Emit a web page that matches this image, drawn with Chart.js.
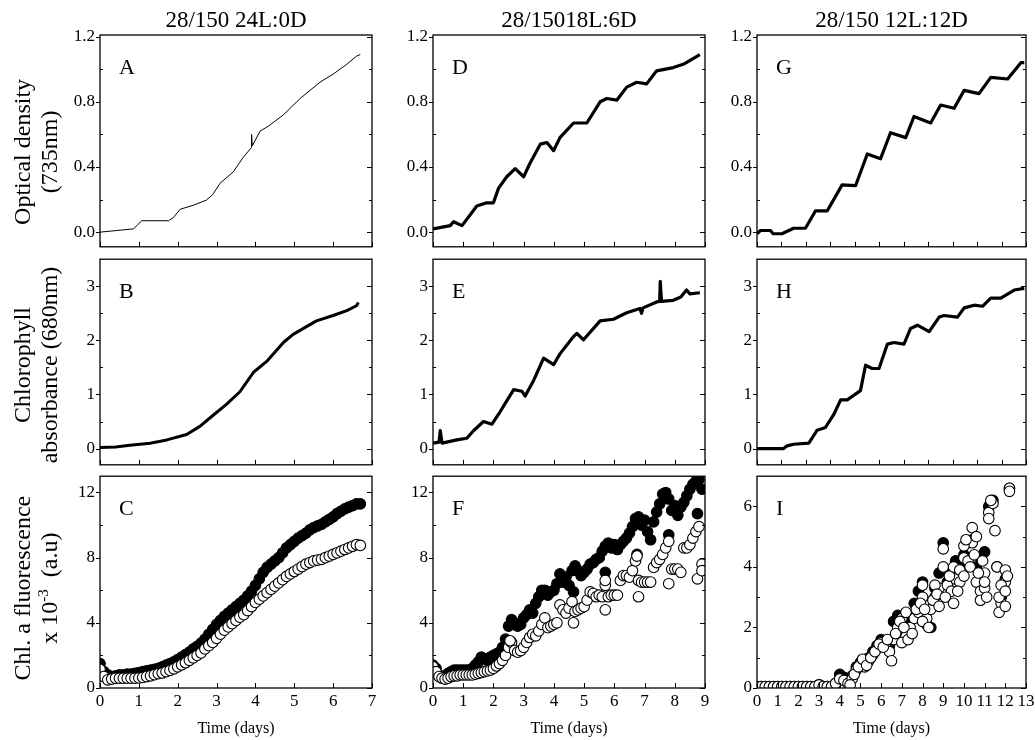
<!DOCTYPE html>
<html>
<head>
<meta charset="utf-8">
<script src="https://cdn.jsdelivr.net/npm/chart.js@4.4.1/dist/chart.umd.min.js"></script>
<style>
  body { margin: 0; background: #fff; width: 1035px; height: 740px; position: relative; overflow: hidden; }
  canvas { position: absolute; }
</style>
</head>
<body>
<script>
// column headers (light regime) and axis titles
const colTitles = ['28/150 24L:0D', '28/15018L:6D', '28/150 12L:12D'];
const xTitle = 'Time (days)';

// tick values / labels
const days7 = [0, 1, 2, 3, 4, 5, 6, 7];
const days9 = [0, 1, 2, 3, 4, 5, 6, 7, 8, 9];
const days11 = [0, 1, 2, 3, 4, 5, 6, 7, 8, 9, 10, 11];
const days13 = [0, 1, 2, 3, 4, 5, 6, 7, 8, 9, 10, 11, 12, 13];
const odTicks = [0, 0.4, 0.8, 1.2];
const odLabels = ['0.0', '0.4', '0.8', '1.2'];
const odMinor = [0.2, 0.6, 1.0];
const chlTicks = [0, 1, 2, 3];
const chlLabels = ['0', '1', '2', '3'];
const chlMinor = [0.5, 1.5, 2.5];
const flTicks = [0, 4, 8, 12];
const flLabels = ['0', '4', '8', '12'];
const flMinor = [2, 6, 10];
const flTicksI = [0, 2, 4, 6];
const flLabelsI = ['0', '2', '4', '6'];
const flMinorI = [1, 3, 5];

// A: OD 735nm, 24L:0D
const aT  = [0, 0.43, 0.86, 0.95, 1.07, 1.76, 1.89, 2.06, 2.4, 2.74, 2.9, 3.09, 3.43, 3.69, 3.9, 3.9, 3.92, 4.12, 4.33, 4.72, 5.15, 5.66, 6.0, 6.35, 6.6, 6.7];
const aOD = [0, 0.01, 0.02, 0.04, 0.07, 0.07, 0.09, 0.14, 0.165, 0.197, 0.23, 0.30, 0.37, 0.46, 0.52, 0.60, 0.53, 0.62, 0.65, 0.72, 0.82, 0.92, 0.97, 1.03, 1.08, 1.09];

// B: chlorophyll absorbance, 24L:0D
const bT   = [0, 0.4, 0.77, 1.29, 1.72, 2.23, 2.57, 2.92, 3.26, 3.6, 3.95, 4.29, 4.72, 4.97, 5.57, 6.0, 6.35, 6.6, 6.65];
const bChl = [0.02, 0.03, 0.06, 0.1, 0.16, 0.26, 0.41, 0.62, 0.82, 1.05, 1.41, 1.61, 1.96, 2.11, 2.36, 2.46, 2.55, 2.64, 2.7];

// C: fluorescence, 24L:0D
const tC = [0, 0.1, 0.2, 0.3, 0.4, 0.5, 0.6, 0.7, 0.8, 0.9,
  1.0, 1.1, 1.2, 1.3, 1.4, 1.5, 1.6, 1.7, 1.8, 1.9,
  2.0, 2.1, 2.2, 2.3, 2.4, 2.5, 2.6, 2.7, 2.8, 2.9,
  3.0, 3.1, 3.2, 3.3, 3.4, 3.5, 3.6, 3.7, 3.8, 3.9,
  4.0, 4.1, 4.2, 4.3, 4.4, 4.5, 4.6, 4.7, 4.8, 4.9,
  5.0, 5.1, 5.2, 5.3, 5.4, 5.5, 5.6, 5.7, 5.8, 5.9,
  6.0, 6.1, 6.2, 6.3, 6.4, 6.5, 6.6, 6.7];
const cFilled = [1.5, 1.0, 0.8, 0.7, 0.75, 0.8, 0.8, 0.85, 0.85, 0.9,
  0.95, 1.0, 1.05, 1.1, 1.15, 1.2, 1.3, 1.4, 1.5, 1.6,
  1.75, 1.9, 2.05, 2.2, 2.4, 2.55, 2.75, 3.0, 3.3, 3.6,
  3.9, 4.15, 4.4, 4.6, 4.8, 5.0, 5.2, 5.4, 5.65, 5.95,
  6.3, 6.7, 7.1, 7.4, 7.6, 7.8, 8.0, 8.3, 8.6, 8.8,
  9.0, 9.2, 9.35, 9.5, 9.7, 9.85, 9.95, 10.05, 10.2, 10.35,
  10.5, 10.7, 10.85, 11.0, 11.1, 11.2, 11.3, 11.3];
const cOpen = [1.15, 0.7, 0.5, 0.55, 0.6, 0.6, 0.6, 0.6, 0.6, 0.6,
  0.62, 0.65, 0.7, 0.75, 0.82, 0.88, 0.92, 1.0, 1.08, 1.18,
  1.3, 1.42, 1.55, 1.7, 1.85, 2.0, 2.15, 2.4, 2.6, 2.8,
  3.05, 3.3, 3.55, 3.75, 3.95, 4.15, 4.35, 4.5, 4.75, 5.0,
  5.25, 5.45, 5.65, 5.85, 6.05, 6.25, 6.45, 6.65, 6.85, 7.0,
  7.15, 7.3, 7.45, 7.6, 7.7, 7.8, 7.85, 7.9, 8.0, 8.1,
  8.2, 8.3, 8.4, 8.5, 8.6, 8.7, 8.8, 8.75];

// D: OD 735nm, 18L:6D
const dT  = [0, 0.57, 0.68, 0.96, 1.45, 1.78, 2.0, 2.17, 2.44, 2.72, 3.0, 3.2, 3.55, 3.77, 3.99, 4.2, 4.65, 5.09, 5.53, 5.75, 6.08, 6.41, 6.74, 7.07, 7.4, 7.95, 8.28, 8.83];
const dOD = [0.02, 0.04, 0.064, 0.04, 0.16, 0.18, 0.18, 0.27, 0.34, 0.39, 0.34, 0.42, 0.54, 0.55, 0.50, 0.58, 0.67, 0.67, 0.80, 0.82, 0.81, 0.89, 0.92, 0.91, 0.99, 1.01, 1.03, 1.09];

// E: chlorophyll absorbance, 18L:6D
const eT   = [0, 0.2, 0.24, 0.3, 0.79, 1.12, 1.34, 1.67, 1.95, 2.22, 2.44, 2.67, 2.94, 3.05, 3.33, 3.66, 3.99, 4.2, 4.65, 4.76, 4.98, 5.53, 5.97, 6.41, 6.85, 6.9, 6.95, 7.4, 7.5, 7.52, 7.56, 7.95, 8.2, 8.39, 8.5, 8.83];
const eChl = [0.1, 0.12, 0.33, 0.1, 0.16, 0.19, 0.33, 0.5, 0.45, 0.68, 0.88, 1.09, 1.06, 0.97, 1.26, 1.67, 1.55, 1.75, 2.07, 2.13, 2.01, 2.36, 2.39, 2.51, 2.59, 2.5, 2.6, 2.71, 2.72, 3.09, 2.72, 2.74, 2.8, 2.93, 2.86, 2.88];

// F: fluorescence, 18L:6D
const tF = [0, 0.1, 0.2, 0.3, 0.4, 0.5, 0.6, 0.7, 0.8, 0.9,
  1.0, 1.1, 1.2, 1.3, 1.4, 1.5, 1.6, 1.7, 1.8, 1.9,
  2.0, 2.1, 2.2, 2.3, 2.4, 2.5, 2.6, 2.7, 2.8, 2.9,
  3.0, 3.1, 3.2, 3.3, 3.4, 3.5, 3.6, 3.7, 3.8, 3.9,
  4.0, 4.1, 4.2, 4.3, 4.4, 4.5, 4.6, 4.7, 4.8, 4.9,
  5.0, 5.1, 5.2, 5.3, 5.4, 5.5, 5.6, 5.7, 5.8, 5.9,
  6.0, 6.1, 6.2, 6.3, 6.4, 6.5, 6.6, 6.7, 6.8, 6.9,
  7.0, 7.1, 7.2, 7.3, 7.4, 7.5, 7.6, 7.7, 7.8, 7.9,
  8.0, 8.1, 8.2, 8.3, 8.4, 8.5, 8.6, 8.7, 8.8, 8.9];
const fFilled = [1.4, 1.2, 0.8, 0.6, 0.7, 0.9, 1.0, 1.1, 1.1, 1.1,
  1.1, 1.1, 1.1, 1.2, 1.4, 1.6, 1.9, 1.8, 1.7, 1.9,
  2.0, 2.1, 2.2, 2.5, 3.0, 3.8, 4.2, 4.0, 3.8, 3.9,
  4.3, 4.5, 4.8, 4.6, 5.2, 5.6, 6.0, 6.0, 5.7, 5.9,
  6.0, 6.4, 7.0, 6.5, 6.8, 6.3, 7.2, 7.5, 7.2, 6.9,
  7.1, 7.3, 7.6, 7.7, 7.9, 8.0, 8.4, 8.7, 8.9, 8.6,
  8.8, 8.5, 8.8, 9.0, 9.2, 9.5, 9.9, 10.4, 10.5, 10.0,
  10.3, 9.6, 9.1, 10.2, 10.8, 11.3, 11.9, 12.0, 11.6, 10.9,
  11.2, 10.6, 11.1, 11.4, 11.8, 12.2, 12.5, 12.7, 12.8, 12.2];
const fOpen = [1.3, 1.0, 0.7, 0.6, 0.55, 0.6, 0.7, 0.75, 0.75, 0.8,
  0.8, 0.8, 0.8, 0.8, 0.85, 0.9, 0.95, 1.0, 1.05, 1.1,
  1.2, 1.35, 1.5, 1.7, 2.0, 2.5, 2.8, 2.3, 2.2, 2.3,
  2.5, 2.8, 3.1, 3.3, 3.2, 3.5, 3.9, 4.3, 3.7, 3.8,
  3.9, 4.0, 5.1, 4.8, 4.6, 4.9, 5.3, 4.7, 4.8, 4.9,
  5.0, 5.4, 5.9, 5.8, 5.6, 5.7, 5.6, 6.3, 5.6, 5.7,
  5.7, 5.7, 6.6, 6.9, 6.9, 6.8, 7.2, 7.8, 6.6, 6.5,
  6.5, 6.5, 6.5, 7.4, 7.7, 7.9, 8.2, 8.6, 9.0, 7.3,
  7.3, 7.3, 7.1, 8.6, 8.6, 8.8, 9.2, 9.6, 9.9, 7.6];
// scattered repeat readings in F, [day, value]
const fFilledExtra = [[4.65, 5.9], [5.7, 7.1], [6.75, 8.2], [7.8, 9.4], [8.75, 10.7]];
const fOpenExtra = [[2.55, 2.9], [4.65, 4.0], [5.7, 4.8], [5.7, 6.6], [6.75, 8.1], [6.8, 5.6], [7.8, 6.4], [8.75, 6.7], [8.9, 7.2]];

// G: OD 735nm, 12L:12D
const gT  = [0, 0.14, 0.55, 0.66, 1.02, 1.5, 1.98, 2.39, 2.87, 3.48, 4.03, 4.51, 5.05, 5.46, 6.08, 6.42, 7.1, 7.51, 8.06, 8.47, 9.08, 9.56, 10.25, 10.79, 10.93];
const gOD = [-0.01, 0.01, 0.01, -0.01, -0.01, 0.024, 0.024, 0.13, 0.13, 0.29, 0.285, 0.48, 0.45, 0.61, 0.58, 0.71, 0.67, 0.78, 0.76, 0.87, 0.85, 0.95, 0.94, 1.04, 1.04];

// H: chlorophyll absorbance, 12L:12D
const hT   = [0, 1.09, 1.23, 1.5, 2.12, 2.46, 2.8, 3.14, 3.42, 3.69, 4.23, 4.44, 4.71, 4.99, 5.33, 5.6, 6.01, 6.28, 6.56, 7.04, 7.45, 7.65, 8.2, 8.47, 8.88, 9.22, 9.56, 9.97, 10.52, 10.93];
const hChl = [0, 0, 0.05, 0.08, 0.1, 0.34, 0.39, 0.63, 0.9, 0.9, 1.07, 1.54, 1.48, 1.48, 1.93, 1.96, 1.93, 2.22, 2.28, 2.16, 2.43, 2.46, 2.43, 2.6, 2.65, 2.63, 2.78, 2.78, 2.93, 2.96];

// I: fluorescence, 12L:12D
const tI = [0, 0.2, 0.4, 0.6, 0.8, 1.0, 1.2, 1.4, 1.6, 1.8,
  2.0, 2.2, 2.4, 2.6, 2.8, 3.0, 3.2, 3.4, 3.6, 3.8,
  4.0, 4.2, 4.4, 4.6, 4.8, 5.0, 5.2, 5.4, 5.6, 5.8,
  6.0, 6.2, 6.4, 6.6, 6.8, 7.0, 7.2, 7.4, 7.6, 7.8,
  8.0, 8.2, 8.4, 8.6, 8.8, 9.0, 9.2, 9.4, 9.6, 9.8,
  10.0, 10.2, 10.4, 10.6, 10.8, 11.0, 11.2, 11.4, 11.6, 11.8,
  12.0, 12.2];
const iFilled = [0.05, 0.05, 0.05, 0.05, 0.05, 0.05, 0.05, 0.05, 0.05, 0.05,
  0.05, 0.05, 0.05, 0.05, 0.05, 0.1, 0.05, 0.05, 0.05, 0.15,
  0.45, 0.35, 0.2, 0.4, 0.7, 0.85, 0.8, 1.0, 1.2, 1.4,
  1.6, 1.5, 1.4, 2.2, 2.4, 2.1, 1.8, 2.3, 2.8, 3.2,
  3.5, 2.1, 2.0, 3.3, 3.8, 4.8, 3.5, 3.8, 4.2, 4.1,
  4.4, 4.3, 4.9, 4.0, 4.3, 4.5, 6.0, 6.2, 4.0, 3.0,
  3.6, 6.6];
const iOpen = [0.05, 0.05, 0.05, 0.05, 0.05, 0.05, 0.05, 0.05, 0.05, 0.05,
  0.05, 0.05, 0.05, 0.05, 0.05, 0.1, 0.05, 0.05, 0.05, 0.15,
  0.3, 0.25, 0.15, 0.3, 0.6, 0.8, 0.7, 0.9, 1.1, 1.3,
  1.5, 1.4, 1.2, 1.6, 2.0, 2.3, 1.7, 2.0, 2.3, 2.5,
  3.0, 2.3, 2.6, 3.0, 3.3, 4.0, 3.4, 3.2, 3.6, 3.5,
  4.3, 4.2, 4.8, 3.5, 3.2, 3.8, 5.8, 6.1, 4.0, 2.8,
  3.5, 6.6];
const iOpenExtra = [[4.5, 0.1], [4.7, 0.45], [4.9, 0.7], [5.1, 0.95], [5.3, 0.75], [5.5, 1.0], [5.7, 1.2], [5.9, 1.45],
  [6.1, 1.35], [6.3, 1.6], [6.5, 0.9], [6.7, 1.8], [6.9, 2.2], [7.0, 1.5], [7.1, 2.0], [7.2, 2.5], [7.3, 1.6],
  [7.5, 1.8], [7.7, 2.6], [7.9, 2.8], [8.0, 3.4], [8.0, 2.2], [8.1, 2.6], [8.3, 2.0], [8.5, 2.9], [8.6, 3.4],
  [8.7, 3.1], [8.8, 2.7], [9.0, 4.6], [9.1, 3.0], [9.3, 3.7], [9.5, 2.8], [9.5, 4.0], [9.7, 3.2], [9.8, 3.9],
  [10.0, 3.7], [10.0, 4.7], [10.1, 4.9], [10.3, 4.0], [10.4, 5.3], [10.5, 4.4], [10.6, 5.0], [10.7, 3.8], [10.8, 2.9],
  [10.9, 4.2], [11.0, 3.3], [11.0, 3.5], [11.1, 3.0], [11.2, 5.6], [11.3, 6.2], [11.5, 5.2], [11.7, 2.5],
  [11.7, 3.0], [11.8, 3.4], [12.0, 3.9], [12.0, 2.7], [12.0, 3.2], [12.1, 3.7], [12.2, 6.5]];

const SERIF = '"Liberation Serif", "Times New Roman", serif';

// plot-area edges on the page
const colLeft = [100, 433, 757];
const colRight = [372, 705, 1026];
const rowTop = [35, 254, 471];
const rowBottom = [252, 470, 688];

function pts(xs, ys) {
  return xs.map((x, i) => ({ x: x, y: ys[i] }));
}
function pairs(list) {
  return list.map(p => ({ x: p[0], y: p[1] }));
}
function lineSet(data, width) {
  return { data: data, showLine: true, borderColor: '#000', borderWidth: width, pointRadius: 0,
    tension: 0, borderJoinStyle: 'round', clip: 0 };
}
function dotSet(data, filled) {
  return { data: data, showLine: false, pointRadius: 5.3, pointBorderWidth: 1.1,
    pointBackgroundColor: filled ? '#000' : '#fff', pointBorderColor: '#000', clip: 0 };
}

// frame, inward ticks, panel letters and the text around the panels
const framePlugin = {
  id: 'frame',
  afterDraw(chart, args, o) {
    const ctx = chart.ctx, a = chart.chartArea;
    const xs = chart.scales.x, ys = chart.scales.y;
    ctx.save();
    ctx.strokeStyle = '#000';
    ctx.lineWidth = 1.3;
    ctx.strokeRect(a.left, a.top, a.right - a.left, a.bottom - a.top);
    ctx.lineWidth = 1;
    ctx.beginPath();
    o.xTicks.forEach(v => {
      const px = Math.round(xs.getPixelForValue(v)) + 0.5;
      ctx.moveTo(px, a.bottom); ctx.lineTo(px, a.bottom - 5);
    });
    o.yMajor.forEach(v => {
      const py = Math.round(ys.getPixelForValue(v)) + 0.5;
      ctx.moveTo(a.left - 4, py); ctx.lineTo(a.left, py);
      ctx.moveTo(a.right, py); ctx.lineTo(a.right - 5, py);
    });
    o.yMinor.forEach(v => {
      const py = Math.round(ys.getPixelForValue(v)) + 0.5;
      ctx.moveTo(a.left, py); ctx.lineTo(a.left + 3, py);
      ctx.moveTo(a.right, py); ctx.lineTo(a.right - 3, py);
    });
    ctx.stroke();

    ctx.fillStyle = '#000';
    ctx.textBaseline = 'alphabetic';
    ctx.textAlign = 'left';
    ctx.font = '22px ' + SERIF;
    ctx.fillText(o.letter, a.left + 19, a.top + 39);

    if (o.title) {
      ctx.textAlign = 'center';
      ctx.font = '23px ' + SERIF;
      ctx.fillText(o.title, (a.left + a.right) / 2, 27);
    }
    if (o.xTitle) {
      ctx.textAlign = 'center';
      ctx.font = '16px ' + SERIF;
      ctx.fillText(o.xTitle, (a.left + a.right) / 2, a.bottom + 45);
    }
    if (o.yTitle) {
      const cy = (a.top + a.bottom) / 2 + o.yShift;
      ctx.textAlign = 'left';
      o.yTitle.forEach((segs, i) => {
        drawRotated(ctx, segs, i === 0 ? 30 : 57, cy);
      });
    }
    ctx.restore();
  }
};

// segs: [[text, isSuperscript], ...] drawn bottom-to-top
function drawRotated(ctx, segs, x, y) {
  const font = '24px ' + SERIF, supFont = '15px ' + SERIF;
  ctx.save();
  ctx.translate(x, y);
  ctx.rotate(-Math.PI / 2);
  let w = 0;
  segs.forEach(s => { ctx.font = s[1] ? supFont : font; w += ctx.measureText(s[0]).width; });
  let cx = -w / 2;
  segs.forEach(s => {
    ctx.font = s[1] ? supFont : font;
    ctx.fillText(s[0], cx, s[1] ? -9 : 0);
    cx += ctx.measureText(s[0]).width;
  });
  ctx.restore();
}

const panels = [
  { col: 0, row: 0, letter: 'A', xMax: 7, xTicks: days7, yMin: -0.09, yMax: 1.21, yMajor: odTicks, yLabels: odLabels, yMinor: odMinor,
    yTitle: [[['Optical density', false]], [['(735nm)', false]]], yShift: 11,
    datasets: [lineSet(pts(aT, aOD), 1)] },
  { col: 0, row: 1, letter: 'B', xMax: 7, xTicks: days7, yMin: -0.3, yMax: 3.5, yMajor: chlTicks, yLabels: chlLabels, yMinor: chlMinor,
    yTitle: [[['Chlorophyll', false]], [['absorbance (680nm)', false]]], yShift: 3,
    datasets: [lineSet(pts(bT, bChl), 3)] },
  { col: 0, row: 2, letter: 'C', xMax: 7, xTicks: days7, yMin: 0, yMax: 13, yMajor: flTicks, yLabels: flLabels, yMinor: flMinor,
    yTitle: [[['Chl. a fluorescence', false]], [['x 10', false], ['-3', true], ['  (a.u)', false]]], yShift: 6,
    datasets: [dotSet(pts(tC, cOpen), false), dotSet(pts(tC, cFilled), true)] },
  { col: 1, row: 0, letter: 'D', xMax: 9, xTicks: days9, yMin: -0.09, yMax: 1.21, yMajor: odTicks, yLabels: odLabels, yMinor: odMinor,
    datasets: [lineSet(pts(dT, dOD), 3.2)] },
  { col: 1, row: 1, letter: 'E', xMax: 9, xTicks: days9, yMin: -0.3, yMax: 3.5, yMajor: chlTicks, yLabels: chlLabels, yMinor: chlMinor,
    datasets: [lineSet(pts(eT, eChl), 3.2)] },
  { col: 1, row: 2, letter: 'F', xMax: 9, xTicks: days9, yMin: 0, yMax: 13, yMajor: flTicks, yLabels: flLabels, yMinor: flMinor,
    datasets: [dotSet(pts(tF, fOpen).concat(pairs(fOpenExtra)), false), dotSet(pts(tF, fFilled).concat(pairs(fFilledExtra)), true)] },
  { col: 2, row: 0, letter: 'G', xMax: 11, xTicks: days11, yMin: -0.09, yMax: 1.21, yMajor: odTicks, yLabels: odLabels, yMinor: odMinor,
    datasets: [lineSet(pts(gT, gOD), 3.2)] },
  { col: 2, row: 1, letter: 'H', xMax: 11, xTicks: days11, yMin: -0.3, yMax: 3.5, yMajor: chlTicks, yLabels: chlLabels, yMinor: chlMinor,
    datasets: [lineSet(pts(hT, hChl), 3.2)] },
  { col: 2, row: 2, letter: 'I', xMax: 13, xTicks: days13, yMin: 0, yMax: 7, yMajor: flTicksI, yLabels: flLabelsI, yMinor: flMinorI,
    datasets: [dotSet(pts(tI, iOpen).concat(pairs(iOpenExtra)), false), dotSet(pts(tI, iFilled), true)] }
];

panels.forEach(p => {
  const yW = p.col === 0 ? 100 : 70;
  const padTop = p.row === 0 ? 35 : 10;
  const xH = p.row === 2 ? 24 : 0;
  const padBottom = p.row === 2 ? 28 : 10;
  const plotW = colRight[p.col] - colLeft[p.col];
  const plotH = rowBottom[p.row] - rowTop[p.row];

  const canvas = document.createElement('canvas');
  canvas.width = yW + plotW + 12;
  canvas.height = padTop + plotH + xH + padBottom;
  canvas.style.left = (colLeft[p.col] - yW) + 'px';
  canvas.style.top = (rowTop[p.row] - padTop) + 'px';
  canvas.style.width = canvas.width + 'px';
  canvas.style.height = canvas.height + 'px';
  document.body.appendChild(canvas);

  new Chart(canvas, {
    type: 'scatter',
    data: { datasets: p.datasets },
    plugins: [framePlugin],
    options: {
      responsive: false,
      animation: false,
      events: [],
      layout: { padding: { left: 0, right: 12, top: padTop, bottom: padBottom } },
      plugins: {
        legend: { display: false },
        tooltip: { enabled: false },
        frame: {
          letter: p.letter,
          title: p.row === 0 ? colTitles[p.col] : null,
          xTitle: p.row === 2 ? xTitle : null,
          yTitle: p.yTitle || null,
          yShift: p.yShift || 0,
          xTicks: p.xTicks, yMajor: p.yMajor, yMinor: p.yMinor
        }
      },
      scales: {
        x: {
          type: 'linear', min: 0, max: p.xMax,
          afterBuildTicks: s => { s.ticks = p.xTicks.map(v => ({ value: v })); },
          afterFit: s => { s.height = xH; },
          grid: { display: false, drawTicks: false },
          border: { display: false },
          ticks: { display: p.row === 2, autoSkip: false, maxRotation: 0, padding: 3, color: '#000',
            font: { family: SERIF, size: 17 } }
        },
        y: {
          type: 'linear', min: p.yMin, max: p.yMax,
          afterBuildTicks: s => { s.ticks = p.yMajor.map(v => ({ value: v })); },
          afterFit: s => { s.width = yW; },
          grid: { display: false, drawTicks: false },
          border: { display: false },
          ticks: { padding: 5, color: '#000', font: { family: SERIF, size: 17 },
            callback: (v, i) => p.yLabels[i] }
        }
      }
    }
  });
});
</script>
</body>
</html>
